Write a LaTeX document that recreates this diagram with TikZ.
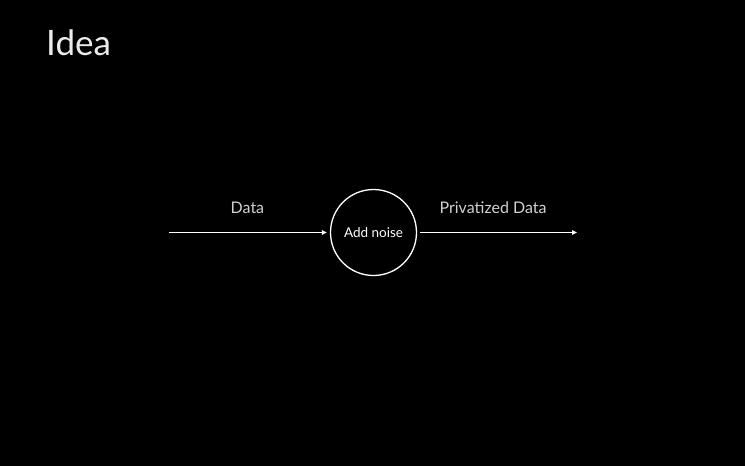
\documentclass[tikz,border=0pt]{standalone}
\usepackage{fontspec}
\setmainfont{Lato}
\usetikzlibrary{arrows.meta}
\begin{document}
\begin{tikzpicture}[x=1pt,y=-1pt,
  flow/.style={white,line width=1.3pt,-{Triangle[length=5pt,width=4.5pt]}},
  lbl/.style={text=white!82!black,font=\fontsize{16}{20}\selectfont},
  proc/.style={circle,draw=white,line width=1.3pt,minimum size=86pt,inner sep=0pt,text=white,font=\fontsize{13.5}{15}\selectfont}]
\fill[black] (0,0) rectangle (745,466);
\useasboundingbox (0,0) rectangle (745,466);
\node[anchor=west,text=white!92!black,font=\fontsize{35}{40}\selectfont,inner sep=0pt] (title) at (46,43) {Idea};
\node[proc] (noise) at (373.5,232.5) {Add noise};
\coordinate (src) at (169,232.5);
\coordinate (dst) at (577,232.5);
\draw[flow,shorten >=3pt] (src) -- (noise.west) node[midway,above=15pt,xshift=-2pt,lbl] (d) {Data};
\draw[flow,shorten <=3pt] (noise.east) -- (dst) node[midway,above=15pt,xshift=-4pt,lbl] (pd) {Privatized Data};
\end{tikzpicture}
\end{document}
